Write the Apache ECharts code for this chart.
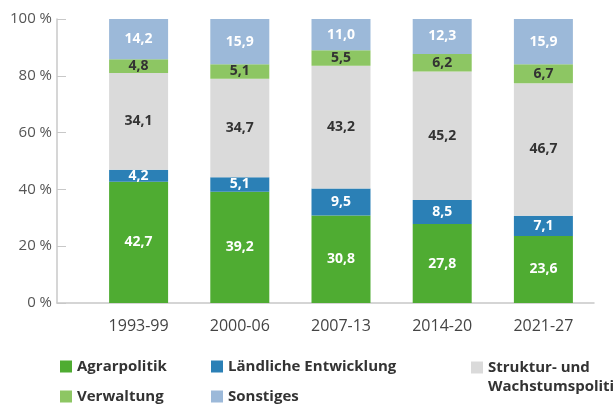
<!DOCTYPE html>
<html>
<head>
<meta charset="utf-8">
<script src="https://cdn.jsdelivr.net/npm/echarts@6/dist/echarts.min.js"></script>
<style>
  html, body { margin: 0; padding: 0; background: #fff; }
  #chart { width: 613px; height: 405px; }
</style>
</head>
<body>
<div id="chart"></div>
<script>
// Förderperioden
var periods = ['1993-99', '2000-06', '2007-13', '2014-20', '2021-27'];
// Anteile in %
var agrar = [42.7, 39.2, 30.8, 27.8, 23.6];
var laendlich = [4.2, 5.1, 9.5, 8.5, 7.1];
var struktur = [34.1, 34.7, 43.2, 45.2, 46.7];
var verwaltung = [4.8, 5.1, 5.5, 6.2, 6.7];
var sonstiges = [14.2, 15.9, 11.0, 12.3, 15.9];
var yTicks = [0, 20, 40, 60, 80, 100];

var FONT = '"Open Sans", "Noto Sans", sans-serif';

function fmt(p) {
    return p.value.toFixed(1).replace('.', ',');
}

function makeSeries(name, data, color, labelColor) {
    return {
        name: name,
        type: 'bar',
        stack: 'total',
        barWidth: 59,
        data: data,
        itemStyle: { color: color },
        label: {
            show: true,
            position: 'inside',
            formatter: fmt,
            color: labelColor,
            fontFamily: FONT,
            fontSize: 14,
            fontWeight: 'bold'
        },
        emphasis: { disabled: true }
    };
}

// ein Legendeneintrag pro Block, damit die Anordnung wie im Original bleibt
function makeLegend(name, left, top, formatter) {
    var lg = {
        data: [name],
        left: left,
        top: top,
        icon: 'rect',
        itemWidth: 12,
        itemHeight: 12,
        itemGap: 0,
        padding: 0,
        selectedMode: false,
        textStyle: { color: '#333', fontFamily: FONT, fontSize: 15, fontWeight: 'bold', lineHeight: 19 }
    };
    if (formatter) lg.formatter = formatter;
    return lg;
}

var chart = echarts.init(document.getElementById('chart'));
var option = {
    animation: false,
    grid: [
        { left: 88, right: 19, top: 19, bottom: 102 },
        { left: 57, right: 19, top: 19, bottom: 102 }
    ],
    xAxis: [
        {
            type: 'category',
            data: periods,
            axisLine: { show: false },
            axisTick: { show: false },
            axisLabel: { color: '#444', fontFamily: FONT, fontSize: 16, margin: 15 }
        },
        {
            // nur die durchgehende Grundlinie
            gridIndex: 1,
            type: 'value',
            axisLine: { show: true, lineStyle: { color: '#c8c8c8', width: 1.5 } },
            axisTick: { show: false },
            axisLabel: { show: false },
            splitLine: { show: false }
        }
    ],
    yAxis: [
        {
            type: 'value',
            min: 0,
            max: 100,
            interval: 20,
            offset: 31,
            axisLine: { show: true, lineStyle: { color: '#c8c8c8', width: 1.5 } },
            axisTick: { show: true, inside: true, length: 9, lineStyle: { color: '#c8c8c8' } },
            splitLine: { show: false },
            axisLabel: {
                color: '#555',
                fontFamily: FONT,
                fontSize: 15,
                margin: 5,
                formatter: function (v) { return yTicks.indexOf(v) >= 0 ? v + ' %' : ''; }
            }
        },
        { gridIndex: 1, type: 'value', show: false }
    ],
    legend: [
        makeLegend('Agrarpolitik', 60, 357),
        makeLegend('Verwaltung', 60, 387),
        makeLegend('Ländliche Entwicklung', 211, 357),
        makeLegend('Sonstiges', 211, 387),
        // leere erste Zeile, damit das Symbol auf Höhe der ersten Textzeile sitzt
        makeLegend('Struktur- und Wachstumspolitik', 471, 339, function () {
            return ' \nStruktur- und\nWachstumspolitik';
        })
    ],
    series: [
        makeSeries('Agrarpolitik', agrar, '#4fac32', '#fff'),
        makeSeries('Ländliche Entwicklung', laendlich, '#2b80b6', '#fff'),
        makeSeries('Struktur- und Wachstumspolitik', struktur, '#dadada', '#333'),
        makeSeries('Verwaltung', verwaltung, '#8dc663', '#333'),
        makeSeries('Sonstiges', sonstiges, '#9cb9d9', '#fff')
    ]
};
chart.setOption(option);
</script>
</body>
</html>
